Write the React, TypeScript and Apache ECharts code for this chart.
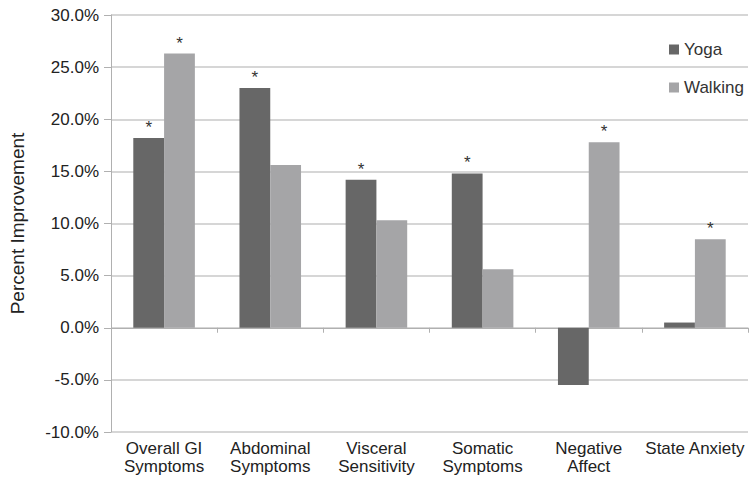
import React, { useEffect, useRef } from "react";
import * as echarts from "echarts";

const categories = [
  "Overall GI\nSymptoms",
  "Abdominal\nSymptoms",
  "Visceral\nSensitivity",
  "Somatic\nSymptoms",
  "Negative\nAffect",
  "State Anxiety",
];
const yogaValues = [18.2, 23.0, 14.2, 14.8, -5.5, 0.5];
const walkingValues = [26.3, 15.6, 10.3, 5.6, 17.8, 8.5];
const yogaSignificant = [true, true, true, true, false, false];
const walkingSignificant = [true, false, false, false, true, true];

const FONT = "Liberation Sans, Arial, sans-serif";

function makeData(values: number[], sig: boolean[]) {
  return values.map((v, i) => ({
    value: v,
    label: { show: sig[i] },
  }));
}

export default function App() {
  const ref = useRef<HTMLDivElement>(null);
  useEffect(() => {
    if (!ref.current) return;
    const chart = echarts.init(ref.current, undefined, { renderer: "svg" });
    const starLabel = {
      position: "top" as const,
      formatter: "*",
      fontSize: 17,
      color: "#333",
      fontFamily: FONT,
      distance: 2,
    };
    chart.setOption({
      animation: false,
      backgroundColor: "#ffffff",
      textStyle: { fontFamily: FONT },
      grid: { left: 103, right: 3, top: 15, bottom: 47, containLabel: false },
      legend: {
        orient: "vertical",
        left: 664,
        top: 36,
        itemWidth: 10,
        itemHeight: 10,
        itemGap: 21,
        icon: "rect",
        textStyle: { fontSize: 17, color: "#333", fontFamily: FONT },
        data: ["Yoga", "Walking"],
      },
      xAxis: {
        type: "category",
        data: categories,
        axisLine: { show: true, onZero: true, lineStyle: { color: "#b0b0b0", width: 1 } },
        axisTick: { show: true, length: 5, lineStyle: { color: "#b0b0b0" } },
        axisLabel: {
          fontSize: 17,
          color: "#222",
          fontFamily: FONT,
          lineHeight: 18,
          margin: 7,
          interval: 0,
        },
      },
      yAxis: {
        type: "value",
        min: -10,
        max: 30,
        interval: 5,
        name: "Percent Improvement",
        nameLocation: "middle",
        nameGap: 84,
        nameTextStyle: { fontSize: 19, color: "#222", fontFamily: FONT },
        axisLine: { show: true, lineStyle: { color: "#b0b0b0", width: 1 } },
        axisTick: { show: true, length: 7, lineStyle: { color: "#b0b0b0" } },
        axisLabel: {
          fontSize: 17,
          color: "#222",
          fontFamily: FONT,
          margin: 12,
          formatter: (v: number) => v.toFixed(1) + "%",
        },
        splitLine: { show: true, lineStyle: { color: "#c8c8c8", width: 1.5 } },
      },
      series: [
        {
          name: "Yoga",
          type: "bar",
          data: makeData(yogaValues, yogaSignificant),
          itemStyle: { color: "#676767" },
          barGap: "0%",
          barCategoryGap: "42%",
          label: starLabel,
        },
        {
          name: "Walking",
          type: "bar",
          data: makeData(walkingValues, walkingSignificant),
          itemStyle: { color: "#a5a5a7" },
          label: starLabel,
        },
      ],
    });
    return () => chart.dispose();
  }, []);
  return (
    <div
      ref={ref}
      style={{ position: "absolute", left: 0, top: 0, width: 751, height: 479 }}
    />
  );
}
